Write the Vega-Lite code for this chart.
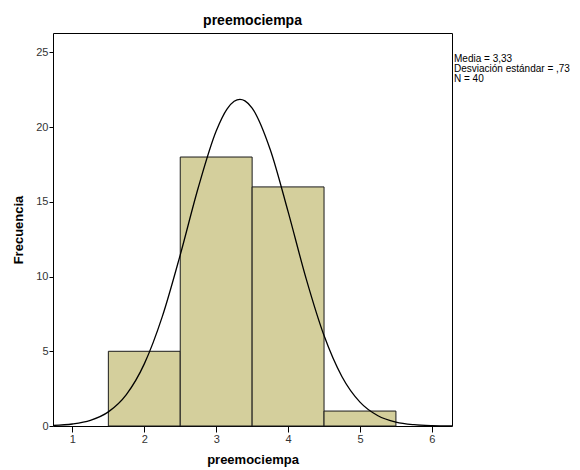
{
  "$schema": "https://vega.github.io/schema/vega-lite/v6.json",
  "width": 399,
  "height": 393,
  "autosize": "none",
  "padding": {"left": 53, "top": 33, "right": 128, "bottom": 44},
  "background": "white",
  "config": {
    "view": {"fill": "#f0f0f0", "stroke": "black", "strokeWidth": 1},
    "font": "Liberation Sans",
    "axis": {"grid": false, "domain": false, "tickColor": "black", "labelColor": "#333333", "labelFontSize": 11, "titleFontSize": 13, "titleFontWeight": "bold", "titleColor": "black", "labelFont": "Liberation Sans", "titleFont": "Liberation Sans"}
  },
  "title": {"text": "preemociempa", "fontSize": 14, "fontWeight": "bold", "font": "Liberation Sans", "anchor": "middle", "offset": 5, "color": "black"},
  "datasets": {
    "bars": [
      {"bin_start": 1.5, "bin_end": 2.5, "count": 5},
      {"bin_start": 2.5, "bin_end": 3.5, "count": 18},
      {"bin_start": 3.5, "bin_end": 4.5, "count": 16},
      {"bin_start": 4.5, "bin_end": 5.5, "count": 1}
    ],
    "curve": [
      {"x": 0.73, "density": 0.038},
      {"x": 1.0, "density": 0.134},
      {"x": 1.25, "density": 0.378},
      {"x": 1.5, "density": 0.944},
      {"x": 1.75, "density": 2.101},
      {"x": 2.0, "density": 4.157},
      {"x": 2.25, "density": 7.317},
      {"x": 2.5, "density": 11.454},
      {"x": 2.75, "density": 15.943},
      {"x": 3.0, "density": 19.737},
      {"x": 3.15, "density": 21.206},
      {"x": 3.25, "density": 21.729},
      {"x": 3.33, "density": 21.86},
      {"x": 3.4, "density": 21.76},
      {"x": 3.5, "density": 21.275},
      {"x": 3.75, "density": 18.525},
      {"x": 4.0, "density": 14.346},
      {"x": 4.25, "density": 9.88},
      {"x": 4.5, "density": 6.051},
      {"x": 4.75, "density": 3.296},
      {"x": 5.0, "density": 1.597},
      {"x": 5.25, "density": 0.688},
      {"x": 5.5, "density": 0.264},
      {"x": 5.75, "density": 0.09},
      {"x": 6.0, "density": 0.027},
      {"x": 6.28, "density": 0.006}
    ],
    "stats": [
      {"label": "Media = 3,33", "order": 1},
      {"label": "Desviación estándar = ,73", "order": 2},
      {"label": "N = 40", "order": 3}
    ]
  },
  "layer": [
    {
      "data": {"name": "bars"},
      "mark": {"type": "rect", "fill": "#d4cf9c", "stroke": "#1a1a1a", "strokeWidth": 1},
      "encoding": {
        "x": {"field": "bin_start", "type": "quantitative", "scale": {"domain": [0.73, 6.28], "nice": false, "zero": false},
              "axis": {"values": [1, 2, 3, 4, 5, 6], "format": "d", "tickSize": 6, "labelPadding": 1, "title": "preemociempa", "titlePadding": 9}},
        "x2": {"field": "bin_end"},
        "y": {"field": "count", "type": "quantitative", "scale": {"domain": [0, 26.3], "nice": false},
              "axis": {"values": [0, 5, 10, 15, 20, 25], "format": "d", "tickSize": 4, "labelPadding": 1, "title": "Frecuencia", "titlePadding": 10}}
      }
    },
    {
      "data": {"name": "curve"},
      "mark": {"type": "line", "color": "black", "strokeWidth": 1.3, "interpolate": "monotone", "clip": true},
      "encoding": {
        "x": {"field": "x", "type": "quantitative"},
        "y": {"field": "density", "type": "quantitative"}
      }
    },
    {
      "data": {"name": "stats"},
      "mark": {"type": "point", "opacity": 0},
      "encoding": {
        "color": {"field": "label", "type": "nominal", "sort": {"field": "order"}, "scale": {"range": ["black", "black", "black"]},
          "legend": {"title": null, "orient": "none", "legendX": 391, "legendY": 21, "symbolSize": 0, "symbolOpacity": 0, "symbolStrokeWidth": 0, "labelFontSize": 10, "labelOffset": 0, "rowPadding": -2.5, "labelLimit": 300, "labelColor": "black", "padding": 0, "labelFont": "Liberation Sans"}}
      }
    }
  ]
}
